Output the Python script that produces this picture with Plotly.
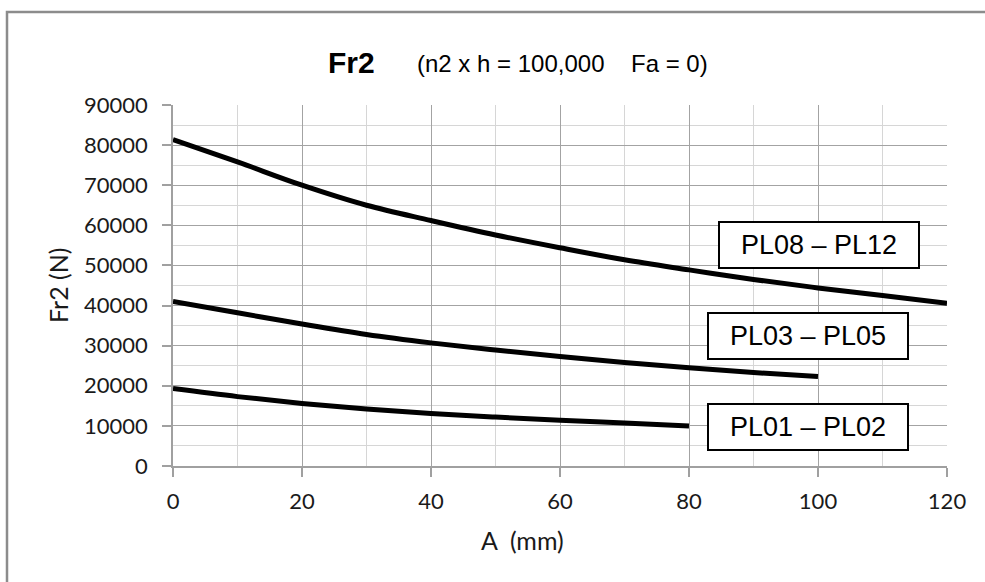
import plotly.graph_objects as go

# ---- data ----
a_large = [0, 10, 20, 30, 40, 50, 60, 70, 80, 90, 100, 110, 120]
fr2_large = [81400, 75800, 70000, 65000, 61200, 57600, 54400, 51400, 48900, 46500, 44400, 42500, 40600]

a_mid = [0, 10, 20, 30, 40, 50, 60, 70, 80, 90, 100]
fr2_mid = [41000, 38200, 35400, 32800, 30700, 28900, 27300, 25800, 24500, 23300, 22300]

a_small = [0, 10, 20, 30, 40, 50, 60, 70, 80]
fr2_small = [19300, 17300, 15600, 14200, 13100, 12200, 11400, 10700, 10000]

series_names = ["PL08 – PL12", "PL03 – PL05", "PL01 – PL02"]
label_x = [100.2, 98.5, 98.5]
label_y = [55200, 32300, 9600]

x_ticks = [0, 20, 40, 60, 80, 100, 120]
y_ticks = [0, 10000, 20000, 30000, 40000, 50000, 60000, 70000, 80000, 90000]

# ---- figure ----
W, H = 985, 582
L, R, T, B = 173, 38, 105, 116
pw, ph = W - L - R, H - T - B


def px_x(p):
    return (p - L) / pw


def px_y(p):
    return (H - B - p) / ph


fig = go.Figure()
for xs, ys, name in [(a_large, fr2_large, series_names[0]),
                     (a_mid, fr2_mid, series_names[1]),
                     (a_small, fr2_small, series_names[2])]:
    fig.add_trace(go.Scatter(x=xs, y=ys, mode="lines", name=name,
                             line=dict(color="black", width=5, shape="spline"),
                             showlegend=False, hoverinfo="skip"))

for name, lx, ly in zip(series_names, label_x, label_y):
    fig.add_annotation(x=lx, y=ly, xref="x", yref="y", text=name, showarrow=False,
                       font=dict(family="Liberation Sans, Arial", size=27, color="black"),
                       bgcolor="white", bordercolor="black", borderwidth=2,
                       width=192, height=38, borderpad=3)

# title pieces
fig.add_annotation(x=px_x(351), y=px_y(62), xref="paper", yref="paper", text="<b>Fr2</b>",
                   showarrow=False, xanchor="center", yanchor="middle",
                   font=dict(family="Liberation Sans, Arial", size=30, color="black"))
fig.add_annotation(x=px_x(415), y=px_y(63), xref="paper", yref="paper", text="(n2 x h = 100,000",
                   showarrow=False, xanchor="left", yanchor="middle",
                   font=dict(family="Liberation Sans, Arial", size=24, color="black"))
fig.add_annotation(x=px_x(629), y=px_y(63), xref="paper", yref="paper", text="Fa = 0)",
                   showarrow=False, xanchor="left", yanchor="middle",
                   font=dict(family="Liberation Sans, Arial", size=24, color="black"))

# axis titles
fig.add_annotation(x=px_x(522), y=px_y(540), xref="paper", yref="paper", text="A&nbsp;&nbsp;(mm)",
                   showarrow=False, xanchor="center", yanchor="middle",
                   font=dict(family="Lato", size=25, color="#1a1a1a"))
fig.add_annotation(x=px_x(58), y=px_y(285), xref="paper", yref="paper", text="Fr2 (N)",
                   showarrow=False, xanchor="center", yanchor="middle", textangle=-90,
                   font=dict(family="Lato", size=25, color="#1a1a1a"))

# outer frame (top + left visible) as a single open path
frame_col = "#8c8c8c"
fig.add_shape(type="path", xref="paper", yref="paper",
              path=f"M {px_x(7)},{px_y(590)} L {px_x(7)},{px_y(12)} L {px_x(1000)},{px_y(12)}",
              line=dict(color=frame_col, width=2.5), fillcolor="rgba(0,0,0,0)")

fig.update_layout(
    width=W, height=H,
    margin=dict(l=L, r=R, t=T, b=B),
    paper_bgcolor="white", plot_bgcolor="white",
    showlegend=False, hovermode=False,
)
fig.update_xaxes(
    range=[0, 120], tickvals=x_ticks, ticktext=[str(v) for v in x_ticks],
    showgrid=True, gridcolor="#a3a3a3", gridwidth=1.3,
    minor=dict(dtick=10, showgrid=True, gridcolor="#d6d6d6", gridwidth=1.3),
    showline=True, linecolor="#a0a0a0", linewidth=1.5,
    ticks="outside", ticklen=9, tickcolor="#a0a0a0", tickwidth=1.5,
    tickfont=dict(family="Lato", size=22, color="#1a1a1a"), ticklabelstandoff=6,
    zeroline=False, mirror=False,
)
fig.update_yaxes(
    range=[0, 90000], tickvals=y_ticks, ticktext=[str(v) for v in y_ticks],
    showgrid=True, gridcolor="#a3a3a3", gridwidth=1.3,
    minor=dict(dtick=5000, showgrid=True, gridcolor="#d6d6d6", gridwidth=1.3),
    showline=True, linecolor="#a0a0a0", linewidth=1.5,
    ticks="outside", ticklen=9, tickcolor="#a0a0a0", tickwidth=1.5,
    tickfont=dict(family="Lato", size=22, color="#1a1a1a"), ticklabelstandoff=10,
    zeroline=False,
)

fig.write_html(
    "out.html", config={"displayModeBar": False},
    post_script=("document.documentElement.style.margin='0';"
                 "document.documentElement.style.overflow='hidden';"
                 "document.body.style.margin='0';document.body.style.overflow='hidden';"),
)
